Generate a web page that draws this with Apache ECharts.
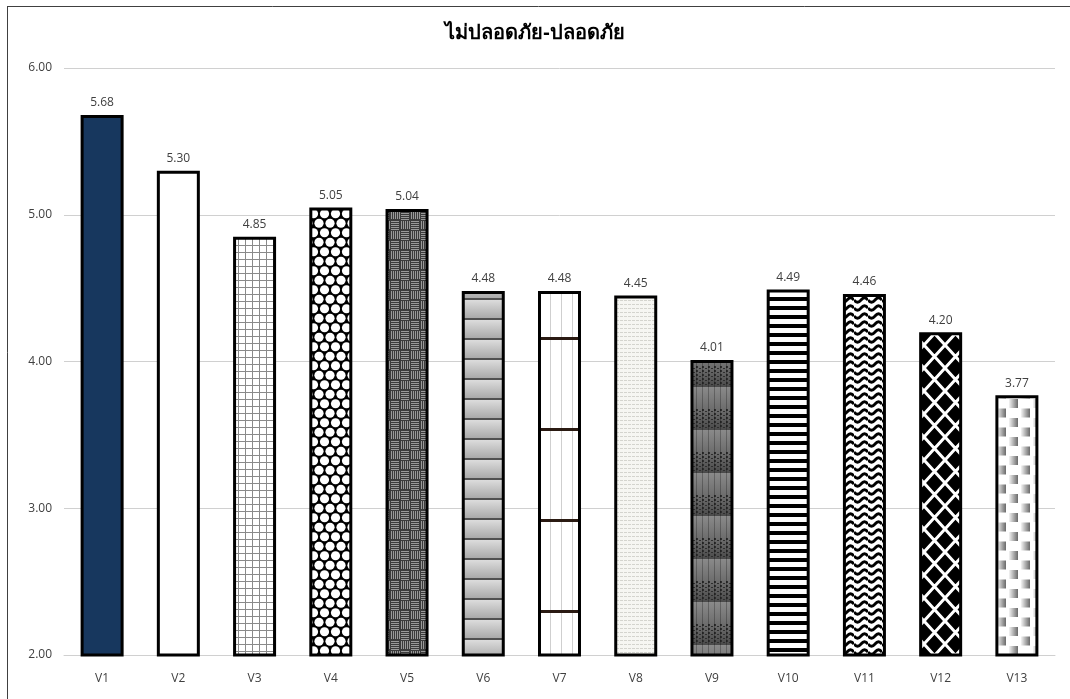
<!DOCTYPE html>
<html>
<head>
<meta charset="utf-8">
<script src="https://cdn.jsdelivr.net/npm/echarts@6/dist/echarts.min.js"></script>
<style>
  html, body { margin: 0; padding: 0; background: #fff; }
  #chart { width: 1070px; height: 699px; }
</style>
</head>
<body>
<div id="chart"></div>
<script>
// Chart data
const chartTitle = 'ไม่ปลอดภัย-ปลอดภัย';
const categories = ['V1','V2','V3','V4','V5','V6','V7','V8','V9','V10','V11','V12','V13'];
const values = [5.68, 5.30, 4.85, 5.05, 5.04, 4.48, 4.48, 4.45, 4.01, 4.49, 4.46, 4.20, 3.77];
const yTicks = { min: 2, max: 6, interval: 1 };

const textFont = 'Open Sans, Liberation Sans, Arial, sans-serif';

// --- fill patterns, one per bar ---
function tile(w, h, draw) {
  const c = document.createElement('canvas');
  c.width = w; c.height = h;
  draw(c.getContext('2d'), w, h);
  return { image: c, repeat: 'repeat' };
}

const fills = [
  '#17375E',
  '#ffffff',
  // fine grid
  tile(7, 7, (g, w, h) => {
    g.fillStyle = '#fff'; g.fillRect(0, 0, w, h);
    g.fillStyle = '#8a8a8a'; g.fillRect(0, 0, w, 1); g.fillRect(0, 0, 1, h);
  }),
  // white dots on black
  tile(22, 19, (g, w, h) => {
    g.fillStyle = '#000'; g.fillRect(0, 0, w, h);
    g.fillStyle = '#fff';
    [[5.5, 4.75], [16.5, 4.75], [0, 14.25], [11, 14.25], [22, 14.25],
     [5.5, 23.75], [16.5, 23.75], [0, -4.75], [11, -4.75], [22, -4.75]].forEach(([x, y]) => {
      g.beginPath(); g.arc(x, y, 4.6, 0, Math.PI * 2); g.fill();
    });
  }),
  // basket weave
  tile(20, 20, (g, w, h) => {
    g.fillStyle = '#3c3c3c'; g.fillRect(0, 0, w, h);
    g.fillStyle = '#9a9a9a';
    const vert = (x0, y0) => { for (let i = 1; i < 10; i += 2) g.fillRect(x0 + i, y0 + 1, 1, 8); };
    const hori = (x0, y0) => { for (let i = 1; i < 10; i += 2) g.fillRect(x0 + 1, y0 + i, 8, 1); };
    vert(0, 0); hori(10, 0); hori(0, 10); vert(10, 10);
  }),
  // shaded horizontal bands
  tile(10, 20, (g, w, h) => {
    const gr = g.createLinearGradient(0, 0, 0, h);
    gr.addColorStop(0, '#dcdcdc'); gr.addColorStop(1, '#a4a4a4');
    g.fillStyle = gr; g.fillRect(0, 0, w, h);
    g.fillStyle = '#505050'; g.fillRect(0, h - 2, w, 2);
  }),
  // thin verticals with wide-spaced dark rules
  tile(11, 91, (g, w, h) => {
    g.fillStyle = '#fff'; g.fillRect(0, 0, w, h);
    g.fillStyle = '#cfcfcf'; g.fillRect(0, 0, 1, h);
    g.fillStyle = '#2a1a12'; g.fillRect(0, 64, w, 3);
  }),
  // faint horizontal dashes
  tile(4, 4, (g, w, h) => {
    g.fillStyle = '#f6f6f2'; g.fillRect(0, 0, w, h);
    g.fillStyle = '#d4d4ce'; g.fillRect(0, 0, 3, 1);
  }),
  // dark texture with periodic bands
  tile(6, 43, (g, w, h) => {
    const gr = g.createLinearGradient(0, 0, 0, h);
    gr.addColorStop(0, '#8a8a8a'); gr.addColorStop(0.5, '#6e6e6e'); gr.addColorStop(1, '#4a4a4a');
    g.fillStyle = gr; g.fillRect(0, 0, w, h);
    g.fillStyle = '#2e2e2e';
    for (let y = 22; y < 42; y += 4) { g.fillRect(0, y, 2, 2); g.fillRect(3, y + 2, 2, 1); }
    g.fillStyle = 'rgba(0,0,0,0.25)'; g.fillRect(0, 0, 1, h);
  }),
  // horizontal stripes
  tile(9, 9, (g, w, h) => {
    g.fillStyle = '#fff'; g.fillRect(0, 0, w, h);
    g.fillStyle = '#000'; g.fillRect(0, 0, w, 4);
  }),
  // wavy lines
  tile(14, 8, (g, w, h) => {
    g.fillStyle = '#fff'; g.fillRect(0, 0, w, h);
    g.strokeStyle = '#000'; g.lineWidth = 3;
    for (let k = -1; k <= 1; k++) {
      g.beginPath();
      for (let x = 0; x <= w; x += 0.5) {
        const y = 4 + k * 8 + 2.2 * Math.sin((x / w) * Math.PI * 2);
        if (x === 0) g.moveTo(x, y); else g.lineTo(x, y);
      }
      g.stroke();
    }
  }),
  // white diamond lattice on black
  tile(21, 23, (g, w, h) => {
    g.fillStyle = '#000'; g.fillRect(0, 0, w, h);
    g.strokeStyle = '#fff'; g.lineWidth = 3;
    g.beginPath();
    g.moveTo(0, 0); g.lineTo(w, h);
    g.moveTo(w, 0); g.lineTo(0, h);
    g.moveTo(-w / 2, h / 2); g.lineTo(w / 2, h * 1.5);
    g.moveTo(w / 2, -h / 2); g.lineTo(w * 1.5, h / 2);
    g.moveTo(w / 2, -h / 2); g.lineTo(-w / 2, h / 2);
    g.moveTo(w * 1.5, h / 2); g.lineTo(w / 2, h * 1.5);
    g.stroke();
  }),
  // shaded checker blocks
  tile(24, 19, (g, w, h) => {
    g.fillStyle = '#fff'; g.fillRect(0, 0, w, h);
    const sq = (x, y) => {
      const gr = g.createLinearGradient(x, y, x + 9, y);
      gr.addColorStop(0, '#f4f4f4'); gr.addColorStop(1, '#6a6a6a');
      g.fillStyle = gr; g.fillRect(x, y, 9, 9);
    };
    sq(1, 0); sq(13, 9.5);
  })
];

const chart = echarts.init(document.getElementById('chart'), null, { renderer: 'canvas' });

chart.setOption({
  backgroundColor: '#ffffff',
  animation: false,
  title: {
    text: chartTitle,
    left: 'center',
    top: 18,
    textStyle: { fontSize: 20, fontWeight: 'bold', color: '#000', fontFamily: 'Noto Sans, DejaVu Sans, sans-serif' }
  },
  grid: { left: 64, right: 15, top: 68, bottom: 44, containLabel: false },
  xAxis: {
    type: 'category',
    data: categories,
    axisLine: { lineStyle: { color: '#d0d0d0', width: 1 } },
    axisTick: { show: false },
    axisLabel: { color: '#404040', fontSize: 12, margin: 18, fontFamily: textFont }
  },
  yAxis: {
    type: 'value',
    min: yTicks.min, max: yTicks.max, interval: yTicks.interval,
    axisLine: { show: false },
    axisTick: { show: false },
    axisLabel: { color: '#404040', fontSize: 12, margin: 12, formatter: v => v.toFixed(2), fontFamily: textFont },
    splitLine: { lineStyle: { color: '#d0d0d0', width: 1 } }
  },
  series: [{
    type: 'bar',
    barWidth: 43,
    data: values.map((v, i) => ({ value: v, itemStyle: { color: fills[i] } })),
    itemStyle: { borderColor: '#000', borderWidth: 3 },
    label: {
      show: true, position: 'top', distance: 6,
      color: '#404040', fontSize: 12, fontFamily: textFont,
      formatter: p => p.value.toFixed(2)
    }
  }],
  graphic: [
    { type: 'line', shape: { x1: 7.5, y1: 6.5, x2: 7.5, y2: 699 }, style: { stroke: '#404040', lineWidth: 1 } },
    { type: 'line', shape: { x1: 7, y1: 6.5, x2: 1070, y2: 6.5 }, style: { stroke: '#404040', lineWidth: 1 } }
  ]
});
</script>
</body>
</html>
